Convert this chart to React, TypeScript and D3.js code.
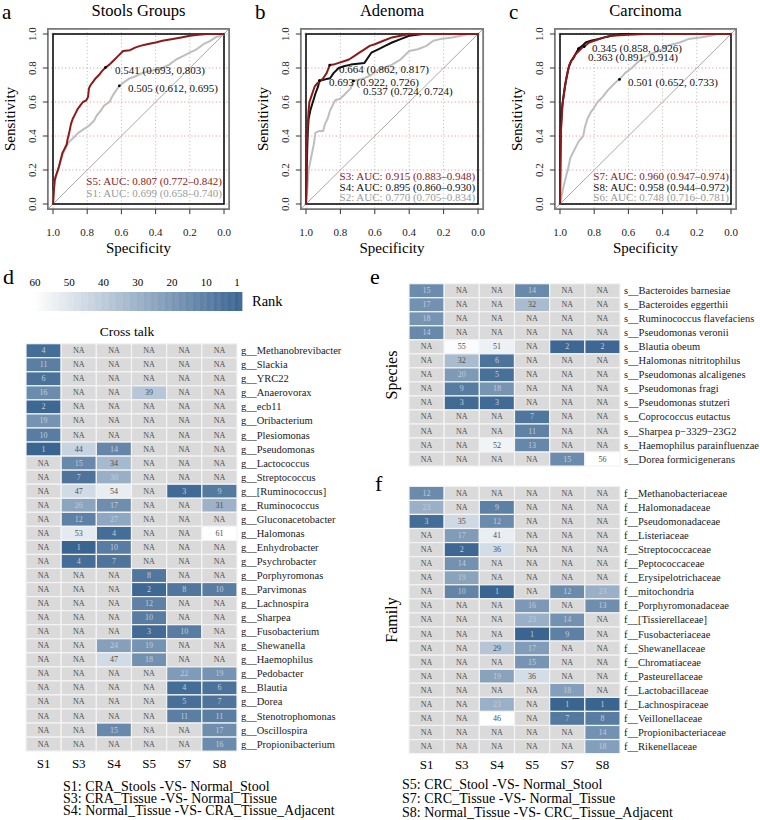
import React from "react";
import * as d3 from "d3";

type Pt = [number, number];
const FONT = "Liberation Serif, DejaVu Serif, Times New Roman, serif";
const RED = "#8B1A1A";
const GRAYC = "#BEBEBE";
const GRAYT = "#9a9a9a";
const BLACK = "#111111";

// ---------- ROC curves: [specificity, sensitivity]
const rocA_S5: Pt[] = [[1,0],[0.995,0.08],[0.99,0.14],[0.985,0.16],[0.975,0.19],[0.965,0.22],[0.955,0.26],[0.945,0.3],[0.935,0.32],[0.92,0.35],[0.915,0.38],[0.905,0.42],[0.895,0.47],[0.885,0.5],[0.87,0.53],[0.855,0.56],[0.84,0.58],[0.825,0.6],[0.805,0.61],[0.795,0.63],[0.79,0.68],[0.78,0.7],[0.765,0.72],[0.75,0.74],[0.73,0.76],[0.715,0.78],[0.693,0.803],[0.67,0.82],[0.65,0.84],[0.62,0.87],[0.59,0.9],[0.55,0.905],[0.52,0.92],[0.49,0.93],[0.45,0.94],[0.4,0.95],[0.36,0.96],[0.3,0.97],[0.25,0.98],[0.2,0.99],[0.15,0.995],[0.1,1],[0,1]];
const rocA_S1: Pt[] = [[1,0],[0.995,0.08],[0.99,0.13],[0.98,0.17],[0.97,0.2],[0.96,0.24],[0.95,0.27],[0.94,0.3],[0.925,0.33],[0.91,0.36],[0.89,0.38],[0.87,0.4],[0.85,0.42],[0.82,0.44],[0.79,0.46],[0.76,0.49],[0.745,0.52],[0.72,0.55],[0.7,0.58],[0.67,0.6],[0.65,0.64],[0.63,0.67],[0.612,0.695],[0.58,0.72],[0.55,0.74],[0.52,0.75],[0.48,0.77],[0.44,0.78],[0.4,0.79],[0.36,0.8],[0.32,0.82],[0.28,0.85],[0.24,0.87],[0.2,0.89],[0.16,0.91],[0.12,0.94],[0.08,0.96],[0.05,0.98],[0.02,0.99],[0,1]];
const rocB_S3: Pt[] = [[1,0],[0.997,0.2],[0.996,0.34],[0.99,0.45],[0.985,0.55],[0.98,0.6],[0.97,0.63],[0.96,0.66],[0.95,0.69],[0.935,0.71],[0.92,0.72],[0.9,0.74],[0.88,0.77],[0.862,0.817],[0.84,0.82],[0.81,0.83],[0.78,0.84],[0.75,0.85],[0.72,0.87],[0.69,0.89],[0.66,0.91],[0.63,0.93],[0.6,0.94],[0.55,0.96],[0.5,0.98],[0.45,0.99],[0.4,1],[0,1]];
const rocB_S4: Pt[] = [[1,0],[0.996,0.2],[0.993,0.32],[0.99,0.42],[0.985,0.5],[0.975,0.55],[0.96,0.6],[0.945,0.65],[0.93,0.69],[0.922,0.726],[0.9,0.73],[0.88,0.735],[0.86,0.74],[0.84,0.77],[0.81,0.8],[0.78,0.81],[0.74,0.82],[0.7,0.825],[0.66,0.83],[0.64,0.86],[0.62,0.89],[0.58,0.91],[0.54,0.93],[0.5,0.95],[0.45,0.97],[0.4,0.99],[0.32,1],[0,1]];
const rocB_S2: Pt[] = [[1,0],[0.995,0.05],[0.99,0.12],[0.985,0.2],[0.975,0.25],[0.965,0.3],[0.955,0.35],[0.945,0.42],[0.92,0.43],[0.9,0.43],[0.89,0.47],[0.875,0.5],[0.86,0.55],[0.845,0.58],[0.83,0.61],[0.8,0.62],[0.77,0.65],[0.74,0.68],[0.724,0.724],[0.7,0.73],[0.66,0.74],[0.62,0.76],[0.58,0.79],[0.55,0.8],[0.5,0.82],[0.45,0.85],[0.42,0.88],[0.4,0.9],[0.35,0.91],[0.3,0.93],[0.26,0.96],[0.22,0.97],[0.15,0.98],[0.1,0.99],[0.06,1],[0,1]];
const rocC_S7: Pt[] = [[1,0],[0.998,0.2],[0.995,0.42],[0.99,0.5],[0.985,0.59],[0.975,0.66],[0.965,0.73],[0.955,0.78],[0.945,0.82],[0.93,0.85],[0.91,0.88],[0.89,0.9],[0.87,0.92],[0.858,0.926],[0.83,0.95],[0.8,0.96],[0.77,0.97],[0.74,0.98],[0.7,0.99],[0.6,0.995],[0.5,1],[0,1]];
const rocC_S8: Pt[] = [[1,0],[0.998,0.25],[0.995,0.45],[0.99,0.55],[0.98,0.63],[0.97,0.7],[0.96,0.75],[0.95,0.8],[0.935,0.84],[0.92,0.86],[0.905,0.89],[0.891,0.914],[0.87,0.93],[0.85,0.95],[0.82,0.96],[0.78,0.97],[0.74,0.98],[0.7,0.99],[0.64,1],[0,1]];
const rocC_S6: Pt[] = [[1,0],[0.99,0.05],[0.98,0.1],[0.965,0.16],[0.95,0.22],[0.94,0.27],[0.925,0.3],[0.91,0.33],[0.89,0.37],[0.864,0.4],[0.855,0.45],[0.84,0.5],[0.82,0.54],[0.805,0.56],[0.78,0.6],[0.75,0.63],[0.72,0.67],[0.69,0.7],[0.67,0.72],[0.652,0.733],[0.62,0.77],[0.58,0.8],[0.55,0.83],[0.513,0.86],[0.45,0.89],[0.4,0.91],[0.376,0.93],[0.3,0.95],[0.25,0.97],[0.18,0.98],[0.12,0.99],[0.08,1],[0,1]];

// threshold annotations: [spec, sens, label]
const thrA: [number, number, string][] = [[0.693,0.803,"0.541 (0.693, 0.803)"],[0.612,0.695,"0.505 (0.612, 0.695)"]];
const thrB: [number, number, string][] = [[0.862,0.817,"0.664 (0.862, 0.817)"],[0.922,0.726,"0.693 (0.922, 0.726)"],[0.724,0.724,"0.537 (0.724, 0.724)"]];
const thrC: [number, number, string][] = [[0.858,0.926,"0.345 (0.858, 0.926)"],[0.891,0.914,"0.363 (0.891, 0.914)"],[0.652,0.733,"0.501 (0.652, 0.733)"]];
// label anchors (spec, sens) for the threshold texts
const thrPosA: Pt[] = [[0.637,0.788],[0.561,0.682]];
const thrPosB: Pt[] = [[0.808,0.794],[0.866,0.718],[0.669,0.665]];
const thrPosC: Pt[] = [[0.813,0.918],[0.836,0.865],[0.602,0.718]];

const aucA: string[] = ["S5: AUC: 0.807 (0.772\u20130.842)","S1: AUC: 0.699 (0.658\u20130.740)"];
const aucB: string[] = ["S3: AUC: 0.915 (0.883\u20130.948)","S4: AUC: 0.895 (0.860\u20130.930)","S2: AUC: 0.770 (0.705\u20130.834)"];
const aucC: string[] = ["S7: AUC: 0.960 (0.947\u20130.974)","S8: AUC: 0.958 (0.944\u20130.972)","S6: AUC: 0.748 (0.716\u20130.781)"];
const rocTicks: number[] = [1,0.8,0.6,0.4,0.2,0];

// ---------- Heatmaps
const NA = null;
const sampleCols: string[] = ["S1","S3","S4","S5","S7","S8"];
const genusRows: string[] = ["Methanobrevibacter","Slackia","YRC22","Anaerovorax","ecb11","Oribacterium","Plesiomonas","Pseudomonas","Lactococcus","Streptococcus","[Ruminococcus]","Ruminococcus","Gluconacetobacter","Halomonas","Enhydrobacter","Psychrobacter","Porphyromonas","Parvimonas","Lachnospira","Sharpea","Fusobacterium","Shewanella","Haemophilus","Pedobacter","Blautia","Dorea","Stenotrophomonas","Oscillospira","Propionibacterium"];
const genusVals: (number|null)[][] = [
  [4,NA,NA,NA,NA,NA],[11,NA,NA,NA,NA,NA],[6,NA,NA,NA,NA,NA],[16,NA,NA,39,NA,NA],[2,NA,NA,NA,NA,NA],[19,NA,NA,NA,NA,NA],[10,NA,NA,NA,NA,NA],[1,44,14,NA,NA,NA],
  [NA,15,34,NA,NA,NA],[NA,7,30,NA,NA,NA],[NA,47,54,NA,3,9],[NA,26,17,NA,NA,31],[NA,12,27,NA,NA,NA],[NA,53,4,NA,NA,61],[NA,1,10,NA,NA,NA],[NA,4,7,NA,NA,NA],
  [NA,NA,NA,8,NA,NA],[NA,NA,NA,2,8,10],[NA,NA,NA,12,NA,NA],[NA,NA,NA,10,NA,NA],[NA,NA,NA,3,10,NA],[NA,NA,24,19,NA,NA],[NA,NA,47,18,NA,NA],
  [NA,NA,NA,NA,22,19],[NA,NA,NA,NA,4,6],[NA,NA,NA,NA,5,7],[NA,NA,NA,NA,11,11],[NA,NA,15,NA,NA,17],[NA,NA,NA,NA,NA,16]];
const speciesRows: string[] = ["Bacteroides barnesiae","Bacteroides eggerthii","Ruminococcus flavefaciens","Pseudomonas veronii","Blautia obeum","Halomonas nitritophilus","Pseudomonas alcaligenes","Pseudomonas fragi","Pseudomonas stutzeri","Coprococcus eutactus","Sharpea p\u22123329\u221223G2","Haemophilus parainfluenzae","Dorea formicigenerans"];
const speciesVals: (number|null)[][] = [
  [15,NA,NA,14,NA,NA],[17,NA,NA,32,NA,NA],[18,NA,NA,NA,NA,NA],[14,NA,NA,NA,NA,NA],[NA,55,51,NA,2,2],[NA,32,6,NA,NA,NA],[NA,20,5,NA,NA,NA],
  [NA,9,18,NA,NA,NA],[NA,3,3,NA,NA,NA],[NA,NA,NA,7,NA,NA],[NA,NA,NA,11,NA,NA],[NA,NA,52,13,NA,NA],[NA,NA,NA,NA,15,56]];
const familyRows: string[] = ["Methanobacteriaceae","Halomonadaceae","Pseudomonadaceae","Listeriaceae","Streptococcaceae","Peptococcaceae","Erysipelotrichaceae","mitochondria","Porphyromonadaceae","[Tissierellaceae]","Fusobacteriaceae","Shewanellaceae","Chromatiaceae","Pasteurellaceae","Lactobacillaceae","Lachnospiraceae","Veillonellaceae","Propionibacteriaceae","Rikenellaceae"];
const familyVals: (number|null)[][] = [
  [12,NA,NA,NA,NA,NA],[23,NA,9,NA,NA,NA],[3,35,12,NA,NA,NA],[NA,17,41,NA,NA,NA],[NA,2,36,NA,NA,NA],[NA,14,NA,NA,NA,NA],[NA,19,NA,NA,NA,NA],
  [NA,10,1,NA,12,23],[NA,NA,NA,16,NA,13],[NA,NA,NA,23,14,NA],[NA,NA,NA,1,9,NA],[NA,NA,29,17,NA,NA],[NA,NA,NA,15,NA,NA],[NA,NA,19,36,NA,NA],
  [NA,NA,NA,NA,18,NA],[NA,NA,23,NA,1,1],[NA,NA,46,NA,7,8],[NA,NA,NA,NA,NA,14],[NA,NA,NA,NA,NA,18]];
const rankTicks: number[] = [60,50,40,30,20,10,1];
const legendLeft: string[] = ["S1: CRA_Stools -VS- Normal_Stool","S3: CRA_Tissue -VS- Normal_Tissue","S4: Normal_Tissue -VS- CRA_Tissue_Adjacent"];
const legendRight: string[] = ["S5: CRC_Stool -VS- Normal_Stool","S7: CRC_Tissue -VS- Normal_Tissue","S8: Normal_Tissue -VS- CRC_Tissue_Adjacent"];

const BLUE = "#3A6591";
const NAFILL = "#DADADA";

type Curve = { data: Pt[]; color: string };
type RocCfg = { letter: string; title: string; x0: number; x1: number; curves: Curve[]; thr: [number, number, string][]; thrPos: Pt[]; auc: string[]; aucColors: string[] };

const rocCfgs: RocCfg[] = [
  { letter: "a", title: "Stools Groups", x0: 53, x1: 224, curves: [{ data: rocA_S1, color: GRAYC }, { data: rocA_S5, color: RED }], thr: thrA, thrPos: thrPosA, auc: aucA, aucColors: [RED, GRAYT] },
  { letter: "b", title: "Adenoma", x0: 306, x1: 478, curves: [{ data: rocB_S2, color: GRAYC }, { data: rocB_S4, color: BLACK }, { data: rocB_S3, color: RED }], thr: thrB, thrPos: thrPosB, auc: aucB, aucColors: [RED, BLACK, GRAYT] },
  { letter: "c", title: "Carcinoma", x0: 560, x1: 731, curves: [{ data: rocC_S6, color: GRAYC }, { data: rocC_S8, color: BLACK }, { data: rocC_S7, color: RED }], thr: thrC, thrPos: thrPosC, auc: aucC, aucColors: [RED, BLACK, GRAYT] },
];

const ff = { fontFamily: FONT };

function RocPanel({ cfg }: { cfg: RocCfg }) {
  const x = d3.scaleLinear().domain([1, 0]).range([cfg.x0, cfg.x1]);
  const y = d3.scaleLinear().domain([0, 1]).range([204, 34]);
  const pad = 0.03;
  const bl = x(1 + pad), br = x(-pad), bt = y(1 + pad), bb = y(-pad);
  const line = d3.line<Pt>().x(d => x(d[0])).y(d => y(d[1]));
  const cx = (x(1) + x(0)) / 2;
  const aucY = cfg.auc.length === 2 ? [0.135, 0.065] : [0.165, 0.1, 0.04];
  return (
    <g style={ff}>
      <text x={x(1) - 51} y={19} fontSize={21} style={ff}>{cfg.letter}</text>
      <text x={cx} y={16} fontSize={16.5} textAnchor="middle" style={ff}>{cfg.title}</text>
      {rocTicks.map(t => (
        <line key={"v" + t} x1={x(t)} x2={x(t)} y1={bt} y2={bb} stroke="#b5b5b5" strokeDasharray="1,2.5" strokeWidth={1} />
      ))}
      {rocTicks.map(t => (
        <line key={"h" + t} x1={bl} x2={br} y1={y(t)} y2={y(t)} stroke="#e08a8a" strokeDasharray="1,2.5" strokeWidth={1} />
      ))}
      <line x1={x(1 + pad)} y1={y(-pad)} x2={x(-pad)} y2={y(1 + pad)} stroke="#a8a8a8" strokeWidth={1} />
      <rect x={x(1)} y={y(1)} width={x(0) - x(1)} height={y(0) - y(1)} fill="none" stroke="#000" strokeWidth={1.5} />
      {cfg.curves.map((c, i) => (
        <path key={i} d={line(c.data) || ""} fill="none" stroke={c.color} strokeWidth={2} strokeLinejoin="round" />
      ))}
      <rect x={bl} y={bt} width={br - bl} height={bb - bt} fill="none" stroke="#7a7a7a" strokeWidth={1.8} />
      {cfg.thr.map((t, i) => (
        <g key={"t" + i}>
          <circle cx={x(t[0])} cy={y(t[1])} r={1.4} fill="#000" />
          <text x={x(cfg.thrPos[i][0])} y={y(cfg.thrPos[i][1])} dominantBaseline="central" fontSize={11} fill="#111" style={ff}>{t[2]}</text>
        </g>
      ))}
      {cfg.auc.map((s, i) => (
        <text key={"a" + i} x={x(0.805)} y={y(aucY[i])} dominantBaseline="central" fontSize={11} fill={cfg.aucColors[i]} style={ff}>{s}</text>
      ))}
      {rocTicks.map(t => (
        <g key={"yt" + t}>
          <line x1={bl} x2={bl - 5} y1={y(t)} y2={y(t)} stroke="#333" />
          <text transform={`translate(${bl - 12},${y(t)}) rotate(-90)`} textAnchor="middle" fontSize={11} fill="#222" style={ff}>{t.toFixed(1)}</text>
        </g>
      ))}
      {rocTicks.map(t => (
        <g key={"xt" + t}>
          <line x1={x(t)} x2={x(t)} y1={bb} y2={bb + 5} stroke="#333" />
          <text x={x(t)} y={236} textAnchor="middle" fontSize={11} fill="#222" style={ff}>{t.toFixed(1)}</text>
        </g>
      ))}
      <text x={cx} y={253} textAnchor="middle" fontSize={15} style={ff}>Specificity</text>
      <text transform={`translate(${bl - 33},${y(0.5)}) rotate(-90)`} textAnchor="middle" fontSize={15} style={ff}>Sensitivity</text>
    </g>
  );
}

type HeatCfg = { rows: string[]; vals: (number|null)[][]; prefix: string; x0: number; y0: number; h: number; showCols: boolean; colY: number };

function Heatmap({ cfg }: { cfg: HeatCfg }) {
  const maxV = d3.max(cfg.vals.flat().filter(v => v !== null) as number[]) || 60;
  const color = (v: number) => d3.interpolateRgb("#ffffff", BLUE)((maxV - v) / (maxV - 1));
  const xb = d3.scaleBand().domain(sampleCols).range([cfg.x0, cfg.x0 + 211]).padding(0);
  const yb = d3.scaleBand().domain(cfg.rows).range([cfg.y0, cfg.y0 + cfg.h * cfg.rows.length]).padding(0);
  return (
    <g style={ff}>
      {cfg.rows.map((r, ri) => (
        <g key={r}>
          {sampleCols.map((c, ci) => {
            const v = cfg.vals[ri][ci];
            const fill = v === null ? NAFILL : color(v);
            const t = v === null ? 0 : (maxV - v) / (maxV - 1);
            return (
              <g key={c}>
                <rect x={xb(c)} y={yb(r)} width={xb.bandwidth()} height={yb.bandwidth()} fill={fill} stroke="#f4f4f4" strokeWidth={1.2} />
                <text x={(xb(c) || 0) + xb.bandwidth() / 2} y={(yb(r) || 0) + yb.bandwidth() / 2} textAnchor="middle" dominantBaseline="central" fontSize={8} fill={t > 0.5 ? "#c3ccd8" : "#4d4d4d"} style={ff}>{v === null ? "NA" : v}</text>
              </g>
            );
          })}
          <text x={cfg.x0 + 215} y={(yb(r) || 0) + yb.bandwidth() / 2} dominantBaseline="central" fontSize={10.5} fill="#1a1a1a" style={ff}>{cfg.prefix + "__" + r}</text>
        </g>
      ))}
      {cfg.showCols && sampleCols.map(c => (
        <text key={c} x={(xb(c) || 0) + xb.bandwidth() / 2} y={cfg.colY} textAnchor="middle" fontSize={13} style={ff}>{c}</text>
      ))}
    </g>
  );
}

function ColorBar() {
  const xs = d3.scaleLinear().domain([60, 1]).range([35, 237]);
  const steps = d3.range(60, 0, -1);
  const w = (242 - 32) / steps.length;
  return (
    <g style={ff}>
      {steps.map((v, i) => (
        <rect key={v} x={32 + i * w} y={292} width={w + 0.4} height={19} fill={d3.interpolateRgb("#ffffff", BLUE)((60 - v) / 59)} opacity={i % 2 ? 0.95 : 1} />
      ))}
      {rankTicks.map(t => (
        <text key={t} x={xs(t)} y={286} textAnchor="middle" fontSize={11} style={ff}>{t}</text>
      ))}
      <text x={252} y={306} fontSize={14.5} style={ff}>Rank</text>
    </g>
  );
}

export default function App() {
  const heatD: HeatCfg = { rows: genusRows, vals: genusVals, prefix: "g", x0: 26, y0: 343.7, h: 14.05, showCols: true, colY: 768 };
  const heatE: HeatCfg = { rows: speciesRows, vals: speciesVals, prefix: "s", x0: 409, y0: 283.7, h: 14.03, showCols: false, colY: 0 };
  const heatF: HeatCfg = { rows: familyRows, vals: familyVals, prefix: "f", x0: 409, y0: 486.3, h: 14.07, showCols: true, colY: 769 };
  return (
    <svg width={760} height={820} style={{ position: "absolute", left: 0, top: 0, background: "#fff", fontFamily: FONT }}>
      <rect width={760} height={820} fill="#fff" />
      {rocCfgs.map(c => <RocPanel key={c.letter} cfg={c} />)}
      <text x={3} y={284} fontSize={22} style={ff}>d</text>
      <text x={370} y={284} fontSize={22} style={ff}>e</text>
      <text x={375} y={491} fontSize={22} style={ff}>f</text>
      <ColorBar />
      <text x={127} y={336} textAnchor="middle" fontSize={13.5} style={ff}>Cross talk</text>
      <Heatmap cfg={heatD} />
      <Heatmap cfg={heatE} />
      <Heatmap cfg={heatF} />
      <text transform="translate(397,375) rotate(-90)" textAnchor="middle" fontSize={16} style={ff}>Species</text>
      <text transform="translate(397,620) rotate(-90)" textAnchor="middle" fontSize={16} style={ff}>Family</text>
      {legendLeft.map((s, i) => (
        <text key={s} x={63} y={791 + i * 12.2} fontSize={14} style={ff}>{s}</text>
      ))}
      {legendRight.map((s, i) => (
        <text key={s} x={402} y={789 + i * 14} fontSize={14} style={ff}>{s}</text>
      ))}
    </svg>
  );
}
